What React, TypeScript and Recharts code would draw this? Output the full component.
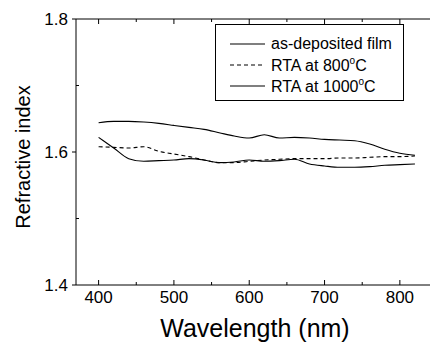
import { LineChart, Line, XAxis, YAxis } from 'recharts';

// wavelength grid (nm) shared by all three curves
const wavelengths = [400, 420, 440, 460, 480, 500, 520, 540, 560, 580, 600, 620, 640, 660, 680, 700, 720, 740, 760, 780, 800, 820];

const asDeposited = [1.644, 1.646, 1.646, 1.645, 1.643, 1.640, 1.637, 1.634, 1.629, 1.624, 1.621, 1.626, 1.621, 1.622, 1.621, 1.619, 1.618, 1.617, 1.612, 1.604, 1.598, 1.595];
const rta800 = [1.608, 1.607, 1.606, 1.608, 1.601, 1.597, 1.593, 1.588, 1.584, 1.584, 1.586, 1.588, 1.589, 1.590, 1.590, 1.590, 1.591, 1.591, 1.592, 1.593, 1.593, 1.594];
const rta1000 = [1.622, 1.606, 1.590, 1.586, 1.587, 1.588, 1.590, 1.588, 1.584, 1.585, 1.588, 1.586, 1.587, 1.589, 1.582, 1.579, 1.577, 1.577, 1.578, 1.580, 1.581, 1.582];

const xTicks = [400, 450, 500, 550, 600, 650, 700, 750, 800];
const xLabels = [400, 500, 600, 700, 800];
const yTicks = [1.4, 1.5, 1.6, 1.7, 1.8];
const yLabels = [1.4, 1.6, 1.8];

const data = wavelengths.map((w, i) => ({
  w,
  asDep: asDeposited[i],
  r800: rta800[i],
  r1000: rta1000[i],
}));

const FONT = '"Liberation Sans", Arial, sans-serif';

const BottomTick = ({ x, y, payload }: any) => {
  const major = xLabels.includes(payload.value);
  return (
    <g>
      <line x1={x} x2={x} y1={y} y2={y - (major ? 5 : 3)} stroke="#000" />
      {major && (
        <text x={x} y={y + 18} textAnchor="middle" fontSize={17} fontFamily={FONT} fill="#000">
          {payload.value}
        </text>
      )}
    </g>
  );
};

const TopTick = ({ x, y, payload }: any) => {
  const major = xLabels.includes(payload.value);
  return <line x1={x} x2={x} y1={y} y2={y + (major ? 5 : 3)} stroke="#000" />;
};

const LeftTick = ({ x, y, payload }: any) => {
  const major = yLabels.includes(payload.value);
  return (
    <g>
      <line x1={x} x2={major ? x - 4 : x + 3} y1={y} y2={y} stroke="#000" />
      {major && (
        <text x={x - 8} y={y + 6} textAnchor="end" fontSize={17} fontFamily={FONT} fill="#000">
          {payload.value.toFixed(1)}
        </text>
      )}
    </g>
  );
};

const YTitle = ({ viewBox }: any) => {
  const cx = viewBox.x + 23;
  const cy = viewBox.y + viewBox.height / 2 + 5;
  return (
    <text x={cx} y={cy} transform={`rotate(-90 ${cx} ${cy})`} textAnchor="middle" dominantBaseline="central" fontSize={20} fontFamily={FONT} fill="#000">
      Refractive index
    </text>
  );
};

const entries = [
  { label: 'as-deposited film', dash: undefined, sup: '' },
  { label: 'RTA at 800', dash: '4 3', sup: 'o' },
  { label: 'RTA at 1000', dash: undefined, sup: 'o' },
];

const LegendBox = () => (
  <div
    style={{
      position: 'absolute', left: 215, top: 24, width: 189, height: 77, boxSizing: 'border-box',
      border: '1px solid #000', fontFamily: FONT, fontSize: 16, color: '#000',
      paddingTop: 8, background: '#fff',
    }}
  >
    {entries.map((e) => (
      <div key={e.label} style={{ display: 'flex', alignItems: 'center', height: 21, whiteSpace: 'nowrap' }}>
        <svg width={55} height={10} style={{ flexShrink: 0 }}>
          <line x1={14} x2={49} y1={5} y2={5} stroke="#000" strokeWidth={1.1} strokeDasharray={e.dash} />
        </svg>
        <span>
          {e.label}
          {e.sup && <sup style={{ fontSize: 10, verticalAlign: 7 }}>{e.sup}</sup>}
          {e.sup && 'C'}
        </span>
      </div>
    ))}
  </div>
);

export default function App() {
  return (
    <div style={{ position: 'absolute', left: 0, top: 0, width: 430, height: 345, background: '#fff' }}>
      <LineChart width={430} height={345} data={data} margin={{ top: 18, right: 0, bottom: 59, left: 0 }}>
        <XAxis
          dataKey="w"
          type="number"
          domain={[370, 840]}
          ticks={xTicks}
          interval={0}
          height={1}
          tickSize={0}
          tickMargin={0}
          tick={<BottomTick />}
          axisLine={{ stroke: '#000' }}
          label={{ value: 'Wavelength (nm)', position: 'bottom', offset: 33, dx: 2, fontSize: 25, fontFamily: FONT, fill: '#000' }}
        />
        <XAxis
          xAxisId="top"
          orientation="top"
          dataKey="w"
          type="number"
          domain={[370, 840]}
          ticks={xTicks}
          interval={0}
          tickSize={0}
          tickMargin={0}
          tick={<TopTick />}
          height={1}
          axisLine={{ stroke: '#000' }}
        />
        <YAxis
          type="number"
          domain={[1.4, 1.8]}
          ticks={yTicks}
          interval={0}
          width={76}
          tickSize={0}
          tickMargin={0}
          tick={<LeftTick />}
          axisLine={{ stroke: '#000' }}
          label={{ content: <YTitle /> }}
        />
        <Line xAxisId="top" dataKey="asDep" type="monotone" stroke="#000" strokeWidth={1.1} dot={false} isAnimationActive={false} />
        <Line dataKey="r800" type="monotone" stroke="#000" strokeWidth={1.1} strokeDasharray="4 3" dot={false} isAnimationActive={false} />
        <Line dataKey="r1000" type="monotone" stroke="#000" strokeWidth={1.1} dot={false} isAnimationActive={false} />
      </LineChart>
      <LegendBox />
    </div>
  );
}
